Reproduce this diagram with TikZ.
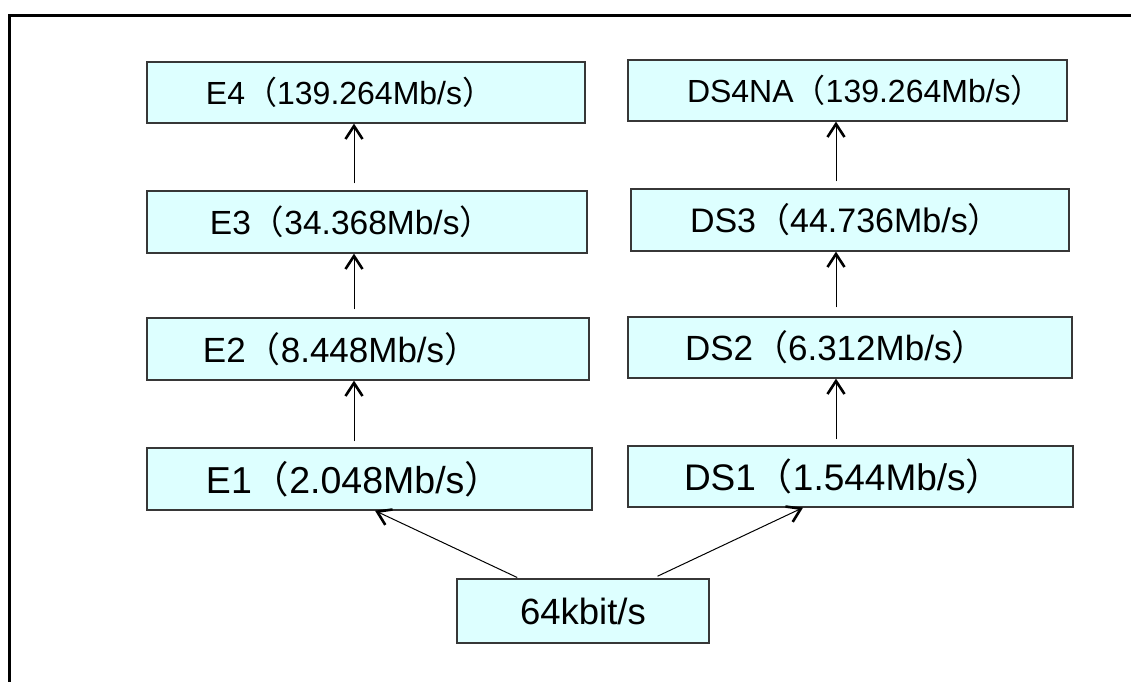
\documentclass[tikz,border=0pt]{standalone}
\usepackage{fontspec}
\setmainfont{Liberation Sans}
\newfontfamily\cjk{Noto Sans CJK SC}
\usetikzlibrary{arrows.meta}

\definecolor{boxfill}{RGB}{221,255,255}
\definecolor{boxline}{RGB}{55,55,55}
\newcommand{\rate}[3][58bp]{\noindent\hspace*{#1}#2{\cjk （}#3{\cjk ）}}
\tikzset{
  rbox/.style 2 args={draw=boxline, fill=boxfill, line width=1.3bp, text width=#1,
    align=left, inner xsep=1bp, inner ysep=0bp, minimum height=61bp,
    font=\fontsize{#2}{#2}\selectfont},
  up/.style={-{Straight Barb[length=13bp,width=17bp,line width=2.6bp]}, line width=1bp, black}
}

\begin{document}
\begin{tikzpicture}[x=1bp, y=-1bp]
\useasboundingbox (0,0) rectangle (1131,682);
\draw[line width=3bp] (1131,15.5) -- (9.5,15.5) -- (9.5,682);

% E series
\node[rbox={436bp}{32bp}] (e4) at (366,92.5) {\rate{E4}{139.264Mb/s}};
\node[rbox={438bp}{33.5bp}, minimum height=62bp] (e3) at (367,222) {\rate[62bp]{E3}{34.368Mb/s}};
\node[rbox={440bp}{35bp}, minimum height=62bp] (e2) at (368,349) {\rate[55bp]{E2}{8.448Mb/s}};
\node[rbox={443bp}{37.5bp}, minimum height=62bp] (e1) at (369.5,479) {\rate{E1}{2.048Mb/s}};

% DS series
\node[rbox={437bp}{32bp}] (ds4) at (847.5,90.5) {\rate{DS4NA}{139.264Mb/s}};
\node[rbox={436bp}{34bp}, minimum height=62bp] (ds3) at (850,220) {\rate{DS3}{44.736Mb/s}};
\node[rbox={442bp}{35bp}] (ds2) at (850,347.5) {\rate[56bp]{DS2}{6.312Mb/s}};
\node[rbox={443bp}{37bp}] (ds1) at (850.5,476.5) {\rate[55bp]{DS1}{1.544Mb/s}};

\node[draw=boxline, fill=boxfill, line width=1.3bp, minimum width=252bp, minimum height=64bp,
  font=\fontsize{36.5bp}{36.5bp}\selectfont] (base) at (583,611) {64kbit/s};

\coordinate (lx) at (354,0);
\coordinate (rx) at (836,0);

\draw[up, shorten <=6bp] (e1.north -| lx) -- (e2.south -| lx);
\draw[up, shorten <=8bp] (e2.north -| lx) -- (e3.south -| lx);
\draw[up, shorten <=7bp] (e3.north -| lx) -- (e4.south -| lx);
\draw[up, shorten <=6bp] (ds1.north -| rx) -- (ds2.south -| rx);
\draw[up, shorten <=9bp] (ds2.north -| rx) -- (ds3.south -| rx);
\draw[up, shorten <=7bp] (ds3.north -| rx) -- (ds4.south -| rx);

\draw[up, shorten <=2bp] ([xshift=-64bp]base.north) -- ([xshift=5.5bp]e1.south);
\draw[up, shorten <=5bp] ([xshift=70bp]base.north) -- ([xshift=-47.5bp]ds1.south);
\end{tikzpicture}
\end{document}
